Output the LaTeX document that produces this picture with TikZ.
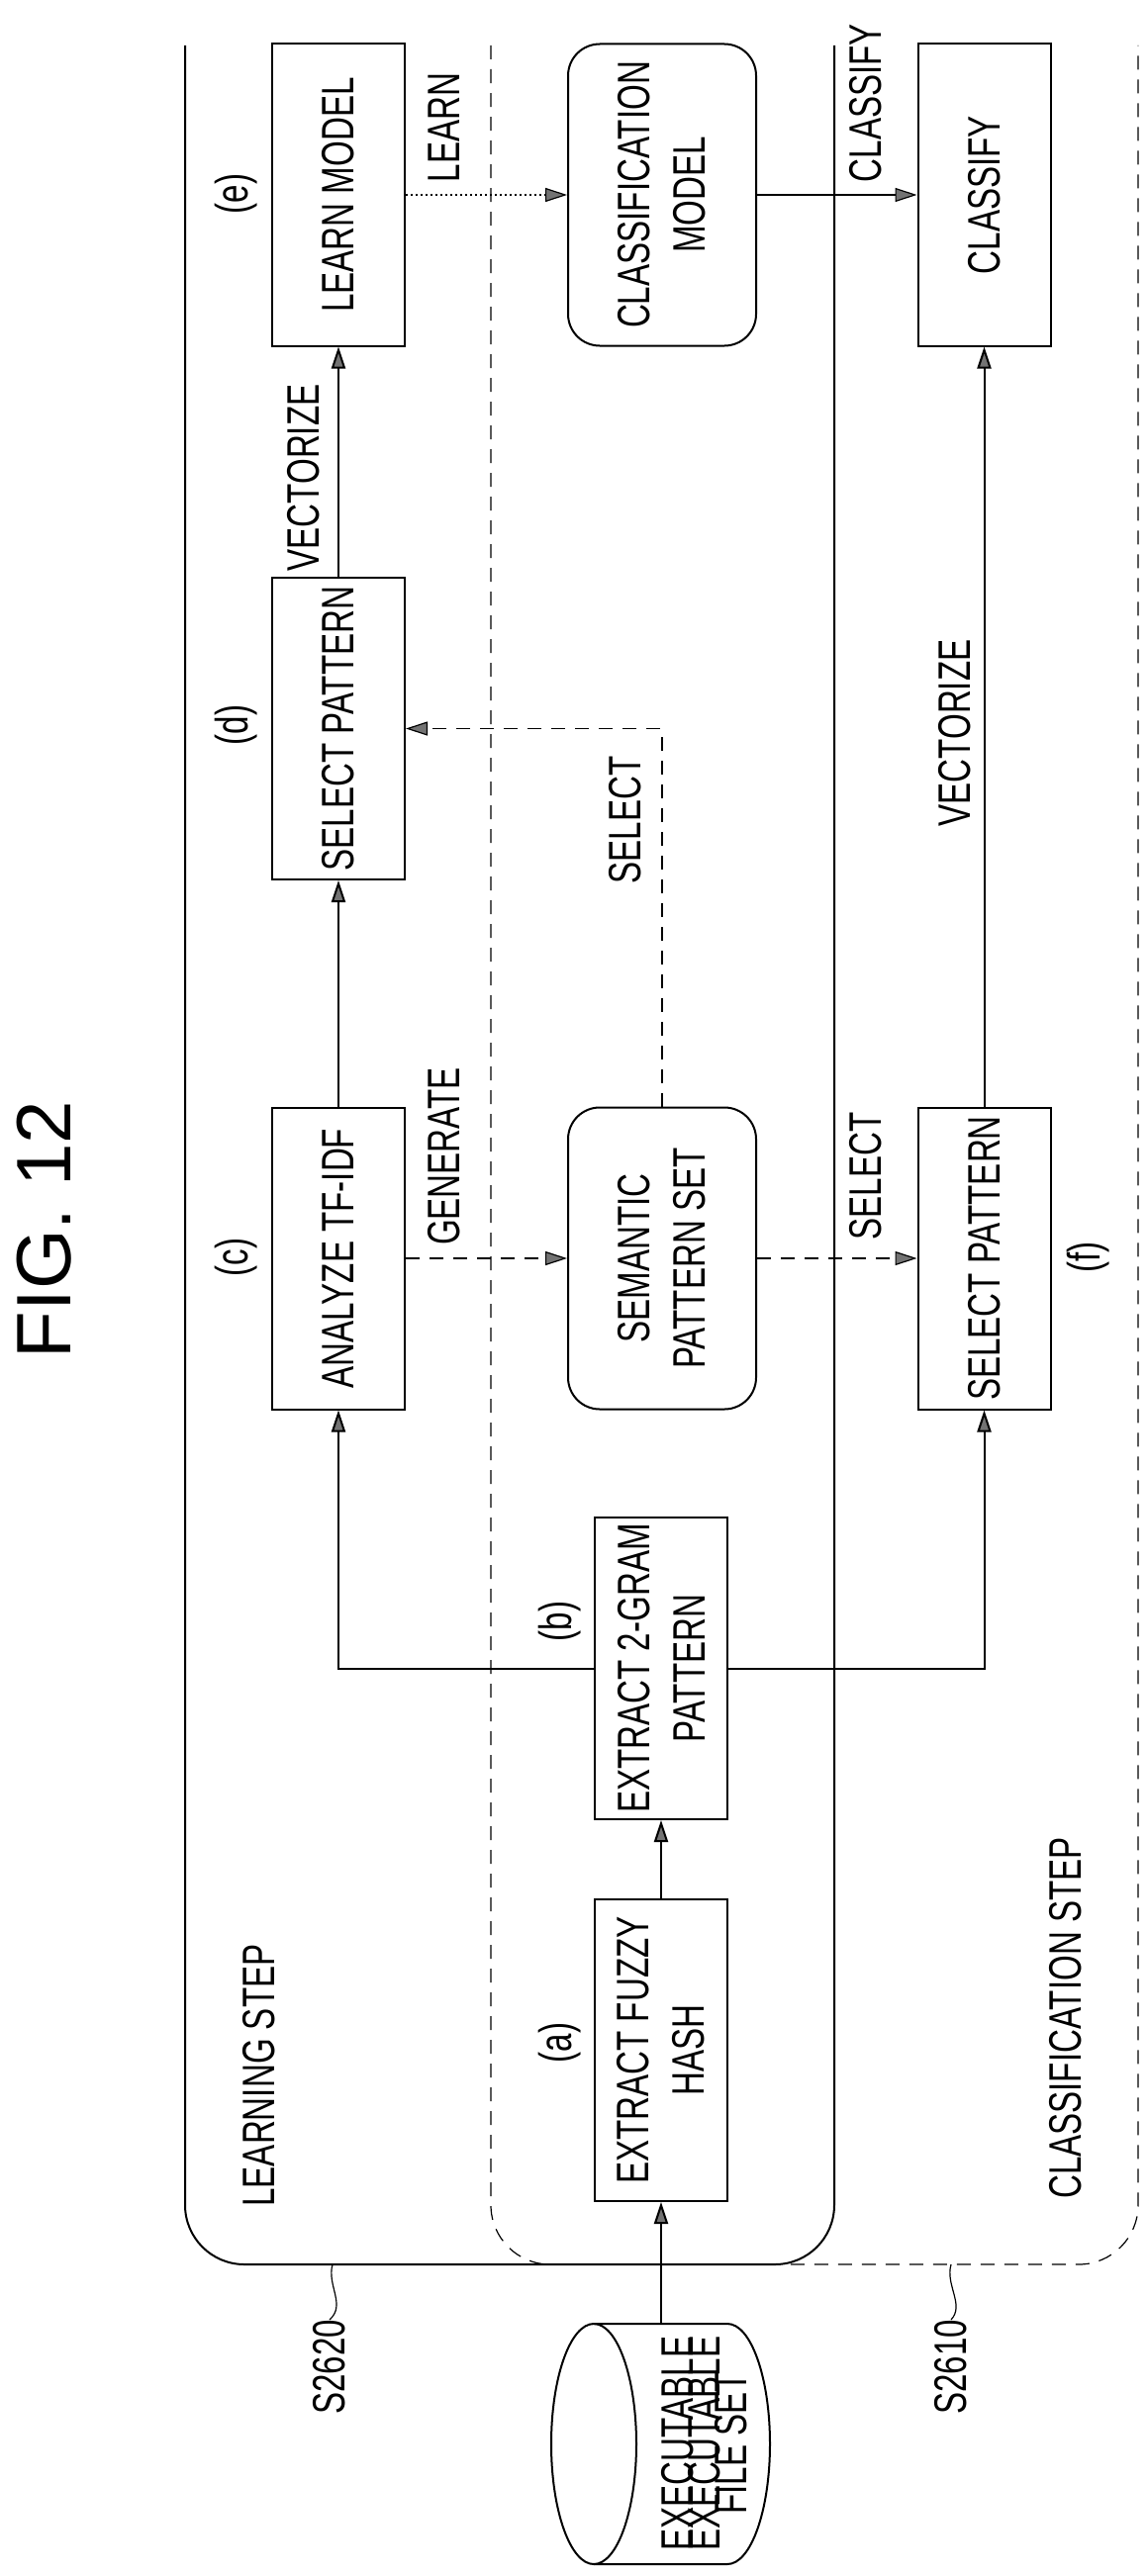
\documentclass[tikz,border=0pt]{standalone}
\usepackage{fontspec}
\setmainfont{Liberation Sans}[FakeStretch=0.72]
\newfontfamily\figfont{Liberation Sans}
\usetikzlibrary{arrows.meta}
\begin{document}
\begin{tikzpicture}[x=1pt,y=-1pt,
  lw/.style={line width=2pt},
  box/.style={draw,lw,rotate=90,minimum width=305pt,minimum height=134pt,inner sep=0pt,align=center,font=\fontsize{46}{56}\selectfont},
  rbox/.style={box,rounded corners=32pt,minimum height=190pt},
  lbl/.style={rotate=90,inner sep=0pt,font=\fontsize{46}{56}\selectfont},
  arr/.style={lw,-{Triangle[length=22pt,width=14pt,fill=black!55]}},
  dsh/.style={arr,line width=1.2pt,dash pattern=on 14pt off 10pt},
  dot/.style={arr,line width=1.2pt,dash pattern=on 2pt off 3pt}]
\useasboundingbox (0,0) rectangle (1159,2604);
% frames
\draw[lw,rounded corners=60pt] (187,46) -- (187,2289) -- (843,2289) -- (843,46);
\draw[line width=1.2pt,dash pattern=on 14pt off 10pt,rounded corners=60pt] (496,46) -- (496,2289) -- (1150,2289) -- (1150,46);
% title
\node[rotate=90,font=\figfont\fontsize{78}{80}\selectfont] (fig) at (45,1243) {FIG. 12};
% boxes
\node[box] (e) at (342,197) {LEARN MODEL};
\node[rbox] (cm) at (669,197) {CLASSIFICATION\\MODEL};
\node[box] (cl) at (994.5,197) {CLASSIFY};
\node[box] (d) at (342,736.5) {SELECT PATTERN};
\node[box] (c) at (342,1272) {ANALYZE TF-IDF};
\node[rbox] (sem) at (669,1272) {SEMANTIC\\PATTERN SET};
\node[box] (f) at (994.5,1272) {SELECT PATTERN};
\node[box] (b) at (668,1686.5) {EXTRACT 2-GRAM\\PATTERN};
\node[box] (a) at (668,2072.5) {EXTRACT FUZZY\\HASH};
% cylinder
\draw[lw] (600,2349) -- (735,2349) arc[start angle=-90,end angle=90,x radius=43pt,y radius=-121.5pt] -- (600,2592);
\draw[lw] (600,2470.5) ellipse[x radius=43pt,y radius=121.5pt];
\node[lbl] (fs) at (712,2470) {EXECUTABLE\\[-8pt]};
\node[rotate=90,inner sep=0pt,align=center,font=\fontsize{46}{54}\selectfont] (fset) at (712,2470) {EXECUTABLE\\FILE SET};
\coordinate (fstop) at (668,2349);
% step labels
\node[lbl] (ls) at (262,2098) {LEARNING STEP};
\node[lbl] (cs) at (1077,2040) {CLASSIFICATION STEP};
\node[lbl] (s2620) at (333,2393) {S2620};
\node[lbl] (s2610) at (961,2393) {S2610};
\coordinate (l1) at (336,2289);
\coordinate (l2) at (961,2289);
\draw[line width=1.2pt] (l1) .. controls (330,2310) and (350,2330) .. (s2620.east);
\draw[line width=1.2pt] (l2) .. controls (955,2310) and (975,2330) .. (s2610.east);
% letters
\node[lbl] (la) at (566,2065) {(a)};
\node[lbl] (lb) at (566,1639) {(b)};
\node[lbl] (lc) at (239,1271) {(c)};
\node[lbl] (ld) at (239,733) {(d)};
\node[lbl] (le) at (239,196) {(e)};
\node[lbl] (lf) at (1100,1271) {(f)};
% connectors
\draw[arr] (fstop) -- (a);
\draw[arr] (a) -- (b);
\draw[arr] (b.north) -| (c.west);
\draw[arr] (b.south) -| (f.west);
\draw[arr] (c) -- (d);
\draw[arr] (d) -- (e);
\draw[arr] (f) -- (cl);
\draw[dot] (e) -- (cm);
\draw[arr,line width=1.2pt] (cm) -- (cl);
\draw[dsh] (c) -- (sem);
\draw[dsh] (sem) -- (f);
\draw[dsh] (sem.east) |- (d.south);
% connector labels
\node[lbl] (v1) at (307,483) {VECTORIZE};
\node[lbl] (v2) at (965,741) {VECTORIZE};
\node[lbl] (learn) at (449,129) {LEARN};
\node[lbl] (clf) at (875,104) {CLASSIFY};
\node[lbl] (gen) at (449,1169) {GENERATE};
\node[lbl] (sel1) at (875,1189) {SELECT};
\node[lbl] (sel2) at (632,829) {SELECT};
\end{tikzpicture}
\end{document}
